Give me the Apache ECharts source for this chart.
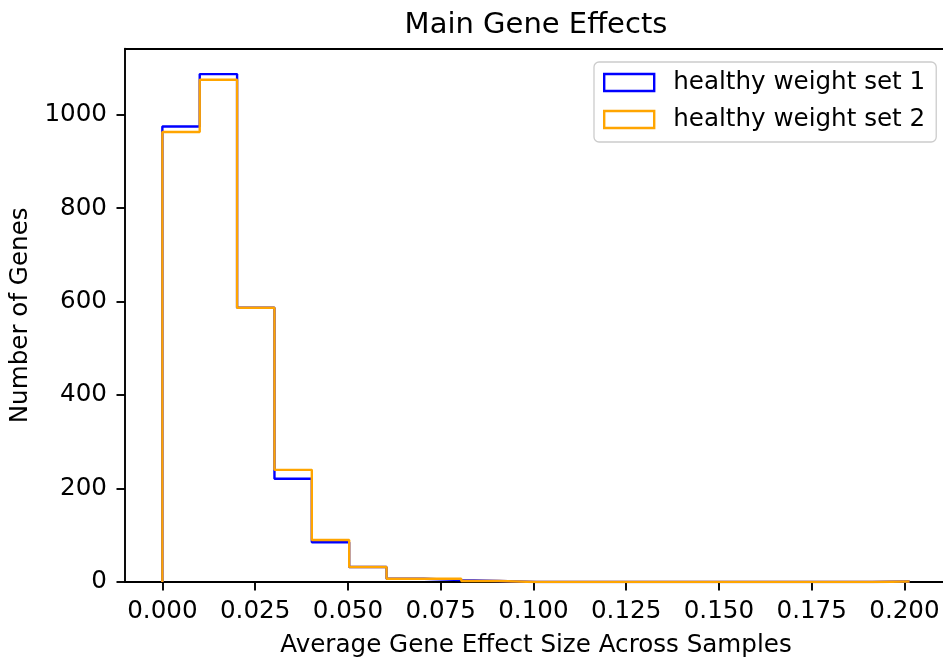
<!DOCTYPE html>
<html>
<head>
<meta charset="utf-8">
<script src="https://cdn.jsdelivr.net/npm/echarts@6/dist/echarts.min.js"></script>
<style>html,body{margin:0;padding:0;background:#fff;}#chart{width:943px;height:659px;}</style>
</head>
<body>
<div id="chart"></div>
<script>
// Histogram data (20 bins, equal width starting at 0)
var binStart = 0;
var binWidth = 0.01007;
var set1Counts = [975, 1087, 587, 221, 85, 32, 7, 4, 2, 0, 0, 0, 0, 0, 0, 0, 0, 0, 0, 1];
var set2Counts = [963, 1075, 587, 240, 90, 32, 7, 7, 2, 0, 0, 0, 0, 0, 0, 0, 0, 0, 0, 1];
var seriesNames = ['healthy weight set 1', 'healthy weight set 2'];
var xTicks = [0, 0.025, 0.05, 0.075, 0.1, 0.125, 0.15, 0.175, 0.2];
var yTicks = [0, 200, 400, 600, 800, 1000];

function stepPath(counts) {
  var pts = [[binStart, 0]];
  for (var i = 0; i < counts.length; i++) {
    var a = binStart + i * binWidth, b = binStart + (i + 1) * binWidth;
    pts.push([a, counts[i]]);
    pts.push([b, counts[i]]);
  }
  pts.push([binStart + counts.length * binWidth, 0]);
  return pts;
}

var dataMax = binStart + set1Counts.length * binWidth;
var xMargin = (dataMax - binStart) * 0.05;
var yMax = Math.max.apply(null, set1Counts.concat(set2Counts)) * 1.05;

var font = 'DejaVu Sans';
var fs = 24.6;
var chart = echarts.init(document.getElementById('chart'), null, {renderer: 'canvas'});
chart.setOption({
  animation: false,
  backgroundColor: '#ffffff',
  title: {
    text: 'Main Gene Effects',
    left: 536, top: 11, padding: 0, textAlign: 'center',
    textStyle: {fontFamily: font, fontSize: 29, fontWeight: 'normal', color: '#000'}
  },
  legend: {
    orient: 'vertical',
    left: 594, top: 62,
    padding: [8, 11, 10, 9],
    itemWidth: 50, itemHeight: 17,
    itemGap: 12,
    borderColor: '#cccccc', borderWidth: 1.3, borderRadius: 5,
    backgroundColor: 'rgba(255,255,255,0.8)',
    textStyle: {fontFamily: font, fontSize: fs, color: '#000', padding: [0, 0, 0, 14]},
    data: [
      {name: seriesNames[0], icon: 'rect', itemStyle: {color: 'rgba(0,0,0,0)', borderColor: '#0000ff', borderWidth: 2.4}},
      {name: seriesNames[1], icon: 'rect', itemStyle: {color: 'rgba(0,0,0,0)', borderColor: '#ffa500', borderWidth: 2.4}}
    ]
  },
  grid: {left: 125, right: -4, top: 48.7, bottom: 77, containLabel: false, outerBoundsMode: 'none'},
  xAxis: [{
    type: 'value',
    min: binStart - xMargin, max: dataMax + xMargin,
    z: 3,
    name: 'Average Gene Effect Size Across Samples',
    nameLocation: 'middle', nameGap: 51,
    nameTextStyle: {fontFamily: font, fontSize: fs, color: '#000'},
    axisLine: {show: true, onZero: false, lineStyle: {color: '#000', width: 1.9}},
    axisTick: {show: true, length: 8.5, lineStyle: {color: '#000', width: 1.9}, customValues: xTicks},
    axisLabel: {fontFamily: font, fontSize: fs, color: '#000', margin: 17, customValues: xTicks,
      formatter: function (v) { return v.toFixed(3); }},
    splitLine: {show: false}
  }, {
    type: 'value', position: 'top',
    min: binStart - xMargin, max: dataMax + xMargin,
    axisLine: {show: true, onZero: false, lineStyle: {color: '#000', width: 1.9}},
    axisTick: {show: false}, axisLabel: {show: false}, splitLine: {show: false}
  }],
  yAxis: {
    type: 'value',
    min: 0, max: yMax,
    z: 3,
    name: 'Number of Genes',
    nameLocation: 'middle', nameGap: 89,
    nameTextStyle: {fontFamily: font, fontSize: fs, color: '#000'},
    axisLine: {show: true, onZero: false, lineStyle: {color: '#000', width: 1.9}},
    axisTick: {show: true, length: 8.5, lineStyle: {color: '#000', width: 1.9}, customValues: yTicks},
    axisLabel: {fontFamily: font, fontSize: fs, color: '#000', margin: 18, customValues: yTicks,
      formatter: function (v) { return String(Math.round(v)); }},
    splitLine: {show: false}
  },
  series: [{
    name: seriesNames[0], type: 'line', xAxisIndex: 0,
    data: stepPath(set1Counts),
    showSymbol: false, symbol: 'none',
    lineStyle: {color: '#0000ff', width: 2.4},
    itemStyle: {color: '#0000ff'}
  }, {
    name: seriesNames[1], type: 'line', xAxisIndex: 0,
    data: stepPath(set2Counts),
    showSymbol: false, symbol: 'none',
    lineStyle: {color: '#ffa500', width: 2.4},
    itemStyle: {color: '#ffa500'}
  }]
});
</script>
</body>
</html>
